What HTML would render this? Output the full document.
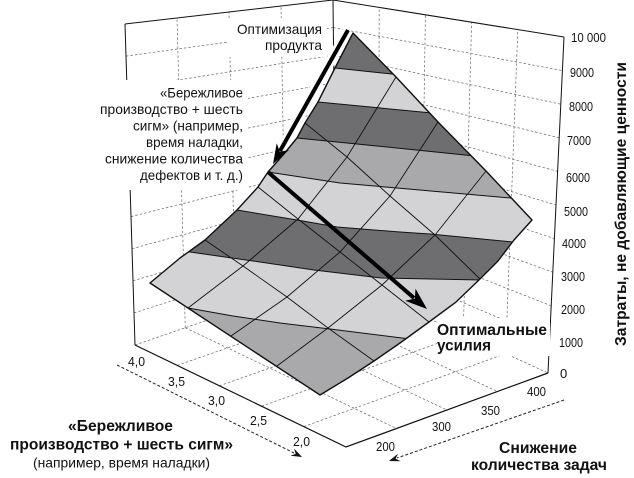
<!DOCTYPE html>
<html><head><meta charset="utf-8"><style>
html,body{margin:0;padding:0;background:#fff;}
svg{display:block;}
text{font-family:"Liberation Sans","Noto Sans CJK SC",sans-serif;fill:#111;}
.b{font-weight:bold;}
</style></head><body>
<svg width="634" height="478" viewBox="0 0 634 478" xmlns="http://www.w3.org/2000/svg">
<defs>
<clipPath id="sc"><path d="M150,283 L320,395 L348,378 L374,361 L400,343 L429,322 L456,302 L480,279 L498,261 L514,240 L532,220 L486,171 L438,122 L396,77 L353,33 L335,68 L318,102 L305,123 L297,138 L283,155 L268,172 L258,187 L237,210 L205,240 L180,258 Z"/></clipPath>
</defs>
<rect width="634" height="478" fill="#fff"/>

<g stroke="#666" stroke-width="0.7" stroke-dasharray="2.5,2" fill="none">
<line x1="335.7" y1="248.4" x2="549.6" y2="339.4"/>
<line x1="335.4" y1="220.8" x2="551.2" y2="305.8"/>
<line x1="335.1" y1="193.2" x2="552.8" y2="272.2"/>
<line x1="334.8" y1="165.6" x2="554.4" y2="238.6"/>
<line x1="334.5" y1="138" x2="556" y2="205"/>
<line x1="334.2" y1="110.4" x2="557.6" y2="171.4"/>
<line x1="333.9" y1="82.8" x2="559.2" y2="137.8"/>
<line x1="333.6" y1="55.2" x2="560.8" y2="104.2"/>
<line x1="333.3" y1="27.6" x2="562.4" y2="70.6"/>
<line x1="134" y1="312.9" x2="335.7" y2="248.4"/>
<line x1="133" y1="280.8" x2="335.4" y2="220.8"/>
<line x1="132" y1="248.7" x2="335.1" y2="193.2"/>
<line x1="131" y1="216.6" x2="334.8" y2="165.6"/>
<line x1="130" y1="184.5" x2="334.5" y2="138"/>
<line x1="129" y1="152.4" x2="334.2" y2="110.4"/>
<line x1="128" y1="120.3" x2="333.9" y2="82.8"/>
<line x1="127" y1="88.2" x2="333.6" y2="55.2"/>
<line x1="126" y1="56.1" x2="333.3" y2="27.6"/>
<line x1="185.25" y1="327.75" x2="177" y2="18"/>
<line x1="235.5" y1="310.5" x2="229" y2="12"/>
<line x1="285.75" y1="293.25" x2="281" y2="6"/>
<line x1="378.4" y1="295.4" x2="379.2" y2="7.4"/>
<line x1="420.8" y1="314.8" x2="425.4" y2="14.8"/>
<line x1="463.2" y1="334.2" x2="471.6" y2="22.2"/>
<line x1="505.6" y1="353.6" x2="517.8" y2="29.6"/>
<line x1="177.2" y1="365.4" x2="378.4" y2="295.4"/>
<line x1="219.4" y1="385.8" x2="420.8" y2="314.8"/>
<line x1="261.6" y1="406.2" x2="463.2" y2="334.2"/>
<line x1="303.8" y1="426.6" x2="505.6" y2="353.6"/>
<line x1="185.25" y1="327.75" x2="396.5" y2="428.5"/>
<line x1="235.5" y1="310.5" x2="447" y2="410"/>
<line x1="285.75" y1="293.25" x2="497.5" y2="391.5"/>
<line x1="135" y1="345" x2="336" y2="276"/>
<line x1="336" y1="276" x2="548" y2="373"/>
</g>

<g stroke="#111" stroke-width="1" fill="none">
<polyline points="125,24 333,0 564,37"/>
<line x1="125" y1="24" x2="135" y2="345"/>
<line x1="333" y1="0" x2="336" y2="276"/>
<line x1="564" y1="37" x2="548" y2="373"/>
<polyline points="135,345 346,447 548,373" stroke-width="1.2"/>
</g>

<rect x="95" y="80" width="153" height="110" fill="#fff"/>
<rect x="228" y="18" width="99" height="39" fill="#fff"/>
<rect x="437" y="318" width="113" height="38" fill="#fff"/>

<g clip-path="url(#sc)">
<polygon fill="#6e6e70" points="100,0 600,0 600,96 392,74 335,68 100,45"/>
<polygon fill="#d3d3d5" points="100,45 335,68 392,74 600,96 600,128 432,113 318,102 100,82"/>
<polygon fill="#6e6e70" points="100,82 318,102 432,113 600,128 600,168 465,155 377,146 297,138 100,120"/>
<polygon fill="#a9a9ab" points="100,120 297,138 377,146 465,155 600,168 600,206 511,198 397,188 340,183 268,172 100,158"/>
<polygon fill="#d3d3d5" points="100,158 268,172 340,183 397,188 511,198 600,206 600,250 513,242 430,234 400,232 337,227 297,220 237,210 100,198"/>
<polygon fill="#6e6e70" points="100,198 237,210 297,220 337,227 400,232 430,234 513,242 600,250 600,282 481,280 381,278 314,270 253,261 190,252 100,240"/>
<polygon fill="#d3d3d5" points="100,240 190,252 253,261 314,270 381,278 481,280 600,282 600,360 402,338 330,329 280,323 233,316 188,308 100,296"/>
<polygon fill="#a9a9ab" points="100,296 188,308 233,316 280,323 330,329 402,338 600,360 600,478 100,478"/>
<g stroke="#111" stroke-width="1" fill="none">
<polyline points="100,45 335,68 392,74 600,96"/>
<polyline points="100,82 318,102 432,113 600,128"/>
<polyline points="100,120 297,138 377,146 465,155 600,168"/>
<polyline points="100,158 268,172 340,183 397,188 511,198 600,206"/>
<polyline points="100,198 237,210 297,220 337,227 400,232 430,234 513,242 600,250"/>
<polyline points="100,240 190,252 253,261 314,270 381,278 481,280 600,282"/>
<polyline points="100,296 188,308 233,316 280,323 330,329 402,338 600,360"/>
</g>
<g stroke="#111" stroke-width="0.9" fill="none">
<polyline points="188,308 243,266 298,219 347,157 396,77"/>
<polyline points="231,336 287,297 340,252 390,196 438,122"/>
<polyline points="277,366 328,328 382,285 435,235 486,171"/>
<polyline points="205,240 243,266 287,297 328,328 374,361"/>
<polyline points="258,187 298,219 340,252 382,285 429,322"/>
<polyline points="305,123 347,157 390,196 435,235 480,279"/>
</g>
</g>
<path d="M150,283 L320,395 L348,378 L374,361 L400,343 L429,322 L456,302 L480,279 L498,261 L514,240 L532,220 L486,171 L438,122 L396,77 L353,33 L335,68 L318,102 L305,123 L297,138 L283,155 L268,172 L258,187 L237,210 L205,240 L180,258 Z" fill="none" stroke="#111" stroke-width="1.4" stroke-linejoin="round"/>

<line x1="348" y1="30" x2="280" y2="151" stroke="#fff" stroke-width="10"/>
<line x1="348" y1="30" x2="280" y2="151" stroke="#000" stroke-width="4"/>
<polygon points="273,164 276.7,143.2 279.8,151.8 288.9,150" fill="#000"/>

<line x1="268" y1="172" x2="414" y2="298" stroke="#000" stroke-width="4"/>
<polygon points="427,309 405.1,300.8 414.9,298.6 415.5,288.6" fill="#000"/>

<g stroke="#222" stroke-width="1" stroke-dasharray="3,2" fill="none">
<line x1="117" y1="365" x2="294" y2="453"/>
<line x1="564" y1="400" x2="397" y2="458"/>
</g>
<polygon points="302,457 290.4,455.7 295.7,453.9 294,448.5" fill="#111"/>
<polygon points="389,461 398.1,453.6 395.6,458.7 400.7,461.2" fill="#111"/>

<g font-size="14">
<text x="237" y="34" textLength="85" lengthAdjust="spacingAndGlyphs">Оптимизация</text>
<text x="265" y="50" textLength="57" lengthAdjust="spacingAndGlyphs">продукта</text>
<text x="160" y="97.5" textLength="83" lengthAdjust="spacingAndGlyphs">«Бережливое</text>
<text x="100" y="114" textLength="143" lengthAdjust="spacingAndGlyphs">производство + шесть</text>
<text x="133" y="130.5" textLength="110" lengthAdjust="spacingAndGlyphs">сигм» (например,</text>
<text x="146" y="147" textLength="97" lengthAdjust="spacingAndGlyphs">время наладки,</text>
<text x="105" y="163.5" textLength="138" lengthAdjust="spacingAndGlyphs">снижение количества</text>
<text x="140" y="180" textLength="103" lengthAdjust="spacingAndGlyphs">дефектов и т. д.)</text>
<text x="33" y="467.5" textLength="177" lengthAdjust="spacingAndGlyphs">(например, время наладки)</text>
</g>
<g font-size="15.5">
<text class="b" x="68" y="431" textLength="105" lengthAdjust="spacingAndGlyphs">«Бережливое</text>
<text class="b" x="10" y="449.5" textLength="223" lengthAdjust="spacingAndGlyphs">производство + шесть сигм»</text>
<text class="b" x="499" y="453" textLength="78" lengthAdjust="spacingAndGlyphs">Снижение</text>
<text class="b" x="471" y="470" textLength="136" lengthAdjust="spacingAndGlyphs">количества задач</text>
<text class="b" x="437" y="335" textLength="110" lengthAdjust="spacingAndGlyphs">Оптимальные</text>
<text class="b" x="437" y="350.5" textLength="54" lengthAdjust="spacingAndGlyphs">усилия</text>
</g>
<text class="b" font-size="16" transform="translate(626,204) rotate(-90)" text-anchor="middle" textLength="284" lengthAdjust="spacingAndGlyphs">Затраты, не добавляющие ценности</text>

<g font-size="13">
<text x="571" y="42" textLength="35" lengthAdjust="spacingAndGlyphs">10 000</text>
<text x="570" y="77" textLength="24" lengthAdjust="spacingAndGlyphs">9000</text>
<text x="569" y="111" textLength="24" lengthAdjust="spacingAndGlyphs">8000</text>
<text x="567" y="145" textLength="24" lengthAdjust="spacingAndGlyphs">7000</text>
<text x="566" y="182" textLength="24" lengthAdjust="spacingAndGlyphs">6000</text>
<text x="564" y="216" textLength="24" lengthAdjust="spacingAndGlyphs">5000</text>
<text x="562" y="248" textLength="24" lengthAdjust="spacingAndGlyphs">4000</text>
<text x="561" y="281" textLength="24" lengthAdjust="spacingAndGlyphs">3000</text>
<text x="561" y="314" textLength="24" lengthAdjust="spacingAndGlyphs">2000</text>
<text x="559" y="347" textLength="24" lengthAdjust="spacingAndGlyphs">1000</text>
<text x="560" y="378">0</text>
</g>
<g font-size="13">
<text x="128" y="366" textLength="17" lengthAdjust="spacingAndGlyphs">4,0</text>
<text x="168" y="386" textLength="17" lengthAdjust="spacingAndGlyphs">3,5</text>
<text x="208" y="405" textLength="17" lengthAdjust="spacingAndGlyphs">3,0</text>
<text x="250" y="425" textLength="17" lengthAdjust="spacingAndGlyphs">2,5</text>
<text x="293" y="446" textLength="17" lengthAdjust="spacingAndGlyphs">2,0</text>
<text x="376" y="451" textLength="19" lengthAdjust="spacingAndGlyphs">200</text>
<text x="432" y="431" textLength="19" lengthAdjust="spacingAndGlyphs">300</text>
<text x="481" y="415" textLength="19" lengthAdjust="spacingAndGlyphs">350</text>
<text x="527" y="396" textLength="19" lengthAdjust="spacingAndGlyphs">400</text>
</g>
</svg>
</body></html>
